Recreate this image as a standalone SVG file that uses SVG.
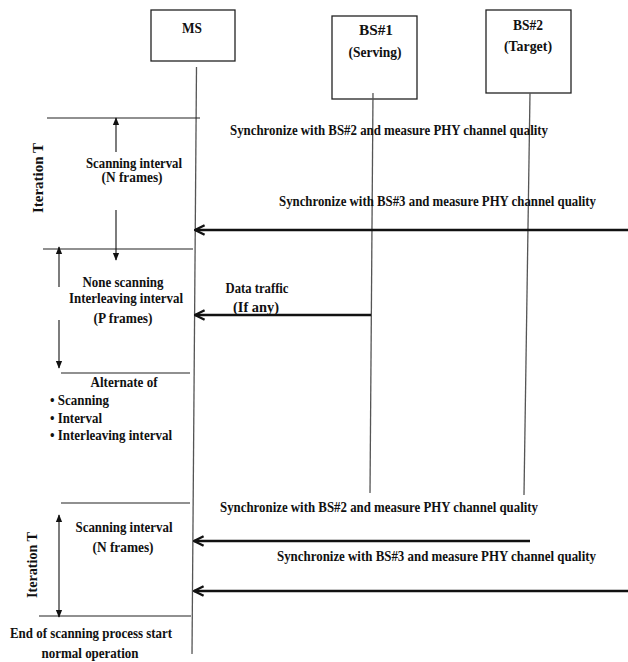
<svg xmlns="http://www.w3.org/2000/svg" width="628" height="662" viewBox="0 0 628 662">
  <style>
    text { font-family: "Liberation Serif", "Times New Roman", serif; font-weight: bold; font-size: 14px; fill: #111; }
    .mid { text-anchor: middle; }
    .box { fill: #fff; stroke: #222; stroke-width: 1.3; }
    .life { stroke: #555; stroke-width: 1.3; fill: none; }
    .rule { stroke: #222; stroke-width: 1.1; fill: none; }
    .msg { stroke: #111; stroke-width: 2.4; fill: none; marker-end: url(#open); }
    .span { stroke: #111; stroke-width: 1.1; fill: none; }
  </style>
  <defs>
    <marker id="open" viewBox="0 0 10 10" refX="9" refY="5" markerWidth="5" markerHeight="5" orient="auto">
      <path d="M1,1 L9,5 L1,9" fill="none" stroke="#111" stroke-width="2"/>
    </marker>
    <marker id="tip" viewBox="0 0 10 10" refX="9" refY="5" markerWidth="8" markerHeight="8" orient="auto" markerUnits="userSpaceOnUse">
      <path d="M0,1 L10,5 L0,9 Z" fill="#111"/>
    </marker>
  </defs>

  <rect width="628" height="662" fill="#fff"/>

  <g id="ms">
    <rect class="box" x="151" y="10" width="84" height="51"/>
    <text class="mid" x="192" y="33" textLength="20" lengthAdjust="spacingAndGlyphs">MS</text>
  </g>
  <g id="bs1">
    <rect class="box" x="332" y="16" width="85" height="83"/>
    <text class="mid" x="376" y="35" textLength="34" lengthAdjust="spacingAndGlyphs">BS#1</text>
    <text class="mid" x="375" y="57" textLength="53" lengthAdjust="spacingAndGlyphs">(Serving)</text>
  </g>
  <g id="bs2">
    <rect class="box" x="486" y="10" width="85" height="83"/>
    <text class="mid" x="528" y="30" textLength="30" lengthAdjust="spacingAndGlyphs">BS#2</text>
    <text class="mid" x="528" y="51" textLength="48" lengthAdjust="spacingAndGlyphs">(Target)</text>
  </g>

  <g id="lifelines">
    <line class="life" x1="196.5" y1="67" x2="192" y2="654"/>
    <line class="life" x1="373" y1="93" x2="370" y2="493"/>
    <line class="life" x1="530" y1="93" x2="524" y2="495"/>
  </g>

  <g id="phases">
    <line class="rule" x1="47" y1="118" x2="200" y2="118"/>
    <line class="rule" x1="43" y1="249" x2="193" y2="249"/>
    <line class="rule" x1="61" y1="373" x2="190" y2="373"/>
    <line class="rule" x1="61" y1="503" x2="190" y2="503"/>
    <line class="rule" x1="39" y1="616" x2="191" y2="616"/>

    <line class="span" x1="116" y1="152" x2="116" y2="118" marker-end="url(#tip)"/>
    <line class="span" x1="116" y1="210" x2="116" y2="260" marker-end="url(#tip)"/>
    <line class="span" x1="59" y1="287" x2="59" y2="247" marker-end="url(#tip)"/>
    <line class="span" x1="59" y1="320" x2="59" y2="368" marker-end="url(#tip)"/>
    <line class="span" x1="59" y1="560" x2="59" y2="515" marker-end="url(#tip)"/>
    <line class="span" x1="59" y1="560" x2="59" y2="617" marker-end="url(#tip)"/>
  </g>

  <g id="phase-labels">
    <text transform="translate(43,178) rotate(-90)" class="mid" textLength="70" lengthAdjust="spacingAndGlyphs">Iteration T</text>
    <text class="mid" x="134" y="168" textLength="96" lengthAdjust="spacingAndGlyphs">Scanning interval</text>
    <text class="mid" x="132" y="182" textLength="61" lengthAdjust="spacingAndGlyphs">(N frames)</text>

    <text class="mid" x="123" y="287" textLength="81" lengthAdjust="spacingAndGlyphs">None scanning</text>
    <text class="mid" x="126" y="303" textLength="114" lengthAdjust="spacingAndGlyphs">Interleaving interval</text>
    <text class="mid" x="123" y="323" textLength="59" lengthAdjust="spacingAndGlyphs">(P frames)</text>

    <text class="mid" x="124" y="387" textLength="67" lengthAdjust="spacingAndGlyphs">Alternate of</text>
    <text x="50" y="405" textLength="59" lengthAdjust="spacingAndGlyphs">• Scanning</text>
    <text x="50" y="423" textLength="52" lengthAdjust="spacingAndGlyphs">• Interval</text>
    <text x="50" y="440" textLength="122" lengthAdjust="spacingAndGlyphs">• Interleaving interval</text>

    <text transform="translate(37,565) rotate(-90)" class="mid" textLength="66" lengthAdjust="spacingAndGlyphs">Iteration T</text>
    <text class="mid" x="124" y="532" textLength="97" lengthAdjust="spacingAndGlyphs">Scanning interval</text>
    <text class="mid" x="123" y="552" textLength="61" lengthAdjust="spacingAndGlyphs">(N frames)</text>

    <text class="mid" x="91" y="638" textLength="162" lengthAdjust="spacingAndGlyphs">End of scanning process start</text>
    <text class="mid" x="90" y="658" textLength="97" lengthAdjust="spacingAndGlyphs">normal operation</text>
  </g>

  <g id="connectors">
    <line class="msg" x1="628" y1="230" x2="195" y2="230"/>
    <line class="msg" x1="371" y1="315" x2="195" y2="315"/>
    <line class="msg" x1="530" y1="541" x2="194" y2="541"/>
    <line class="msg" x1="628" y1="591" x2="194" y2="591"/>
  </g>

  <g id="message-labels">
    <text x="230" y="135" textLength="318" lengthAdjust="spacingAndGlyphs">Synchronize with BS#2 and measure PHY channel quality</text>
    <text x="279" y="206" textLength="317" lengthAdjust="spacingAndGlyphs">Synchronize with BS#3 and measure PHY channel quality</text>
    <text class="mid" x="257" y="293" textLength="63" lengthAdjust="spacingAndGlyphs">Data traffic</text>
    <text class="mid" x="256" y="312" textLength="46" lengthAdjust="spacingAndGlyphs">(If any)</text>
    <text x="220" y="512" textLength="318" lengthAdjust="spacingAndGlyphs">Synchronize with BS#2 and measure PHY channel quality</text>
    <text x="277" y="561" textLength="319" lengthAdjust="spacingAndGlyphs">Synchronize with BS#3 and measure PHY channel quality</text>
  </g>
</svg>
